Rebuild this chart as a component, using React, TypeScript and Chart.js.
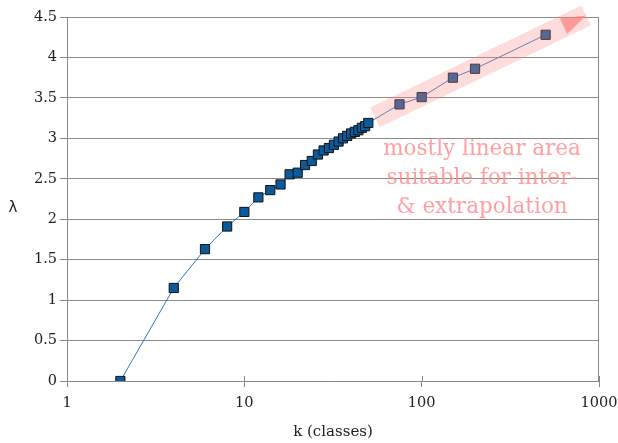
import React, { useEffect, useRef } from 'react';
import { Chart, registerables } from 'chart.js';

Chart.register(...registerables);

// k (classes)
const kValues = [2, 4, 6, 8, 10, 12, 14, 16, 18, 20, 22, 24, 26, 28, 30, 32, 34, 36, 38, 40, 42, 44, 46, 48, 50, 75, 100, 150, 200, 500];
// λ
const lambdaValues = [0, 1.15, 1.63, 1.91, 2.09, 2.27, 2.36, 2.43, 2.555, 2.575, 2.67, 2.72, 2.8, 2.85, 2.88, 2.92, 2.96, 3.0, 3.03, 3.06, 3.08, 3.1, 3.13, 3.15, 3.19, 3.42, 3.51, 3.75, 3.86, 4.28];
const xTickValues = [1, 10, 100, 1000];
const yMin = 0;
const yMax = 4.5;
const yStep = 0.5;
const xTitle = 'k (classes)';
const yTitle = 'λ';
const noteLines = ['mostly linear area', 'suitable for inter-', '& extrapolation'];
// annotation arrow (data space)
const bandStart = { k: 54.6, lambda: 3.26 };
const bandEnd = { k: 845, lambda: 4.52 };
const noteAnchor = { k: 219, lambda: 2.8 };

const annotationPlugin = {
  id: 'annot',
  afterDatasetsDraw(chart: any) {
    const { ctx, scales } = chart;
    const x = scales.x, y = scales.y;
    const x0 = x.getPixelForValue(bandStart.k), y0 = y.getPixelForValue(bandStart.lambda);
    const x1 = x.getPixelForValue(bandEnd.k), y1 = y.getPixelForValue(bandEnd.lambda);
    const dx = x1 - x0, dy = y1 - y0;
    const len = Math.hypot(dx, dy);
    const ux = dx / len, uy = dy / len;
    const px = -uy, py = ux;
    const hw = 11;
    ctx.save();
    ctx.fillStyle = 'rgba(255,140,140,0.3)';
    ctx.beginPath();
    ctx.moveTo(x0 + px * hw, y0 + py * hw);
    ctx.lineTo(x1 + px * hw, y1 + py * hw);
    ctx.lineTo(x1 - px * hw, y1 - py * hw);
    ctx.lineTo(x0 - px * hw, y0 - py * hw);
    ctx.closePath();
    ctx.fill();
    // arrow head
    const tl = 25, th = 8.5;
    const bx = x1 - ux * tl, by = y1 - uy * tl;
    ctx.fillStyle = 'rgba(255,120,120,0.65)';
    ctx.beginPath();
    ctx.moveTo(x1, y1);
    ctx.lineTo(bx + px * th, by + py * th);
    ctx.lineTo(bx - px * th, by - py * th);
    ctx.closePath();
    ctx.fill();
    // note text
    const cx = x.getPixelForValue(noteAnchor.k);
    const cy = y.getPixelForValue(noteAnchor.lambda);
    ctx.fillStyle = 'rgba(255,135,135,0.8)';
    ctx.font = '21.5px "DejaVu Serif"';
    ctx.textAlign = 'center';
    ctx.textBaseline = 'alphabetic';
    noteLines.forEach((t, i) => ctx.fillText(t, cx, cy + i * 29));
    ctx.restore();
  },
  afterDraw(chart: any) {
    const { ctx, chartArea, scales } = chart;
    ctx.save();
    ctx.strokeStyle = '#888';
    ctx.lineWidth = 1;
    // right border
    ctx.beginPath();
    ctx.moveTo(Math.round(chartArea.right) - 0.5, chartArea.top);
    ctx.lineTo(Math.round(chartArea.right) - 0.5, chartArea.bottom);
    ctx.stroke();
    // x tick marks above axis
    xTickValues.forEach((v) => {
      const px = Math.round(scales.x.getPixelForValue(v)) + 0.5;
      ctx.beginPath();
      ctx.moveTo(px, chartArea.bottom - 5);
      ctx.lineTo(px, chartArea.bottom);
      ctx.stroke();
    });
    // titles
    ctx.fillStyle = '#222';
    ctx.textAlign = 'center';
    ctx.textBaseline = 'middle';
    ctx.font = '15px "DejaVu Serif"';
    ctx.fillText(xTitle, (chartArea.left + chartArea.right) / 2, 432);
    ctx.font = '15px "DejaVu Sans"';
    ctx.fillText(yTitle, 13, 208);
    ctx.restore();
  },
};

export default function App() {
  const ref = useRef<HTMLCanvasElement>(null);
  useEffect(() => {
    document.body.style.margin = '0';
    const chart = new Chart(ref.current!, {
      type: 'line',
      data: {
        datasets: [
          {
            data: kValues.map((k, i) => ({ x: k, y: lambdaValues[i] })),
            borderColor: '#2a7cc4',
            borderWidth: 1,
            pointStyle: 'rect',
            pointRadius: 6.5,
            pointBackgroundColor: '#0b5b9c',
            pointBorderColor: '#111',
            pointBorderWidth: 1,
            tension: 0,
            fill: false,
          },
        ],
      },
      options: {
        animation: false,
        responsive: false,
        maintainAspectRatio: false,
        layout: { padding: { left: 0, right: 19, top: 17, bottom: 0 } },
        plugins: { legend: { display: false }, tooltip: { enabled: false } },
        scales: {
          x: {
            type: 'logarithmic',
            min: 1,
            max: 1000,
            afterBuildTicks: (s: any) => {
              s.ticks = xTickValues.map((v) => ({ value: v, major: true }));
            },
            afterFit: (s: any) => {
              s.height = 62;
              s.paddingLeft = 0;
              s.paddingRight = 0;
            },
            ticks: {
              callback: (v: any) => String(v),
              color: '#222',
              font: { family: 'DejaVu Serif', size: 14.5 },
              padding: 8,
              maxRotation: 0,
              autoSkip: false,
            },
            grid: { drawOnChartArea: false, drawTicks: true, tickLength: 6, color: '#888' },
            border: { display: true, color: '#888' },
          },
          y: {
            type: 'linear',
            min: yMin,
            max: yMax,
            ticks: {
              stepSize: yStep,
              callback: (v: any) => String(Math.round(Number(v) * 10) / 10),
              color: '#222',
              font: { family: 'DejaVu Serif', size: 14.5 },
              padding: 3,
            },
            afterFit: (s: any) => {
              s.width = 67;
              s.paddingTop = 0;
              s.paddingBottom = 0;
            },
            grid: { color: '#8a8a8a', tickLength: 7, lineWidth: 1 },
            border: { display: true, color: '#888' },
          },
        },
      },
      plugins: [annotationPlugin],
    } as any);
    return () => chart.destroy();
  }, []);
  return (
    <div style={{ position: 'absolute', left: 0, top: 0, width: 618, height: 443 }}>
      <canvas ref={ref} width={618} height={443} style={{ width: 618, height: 443 }} />
    </div>
  );
}
